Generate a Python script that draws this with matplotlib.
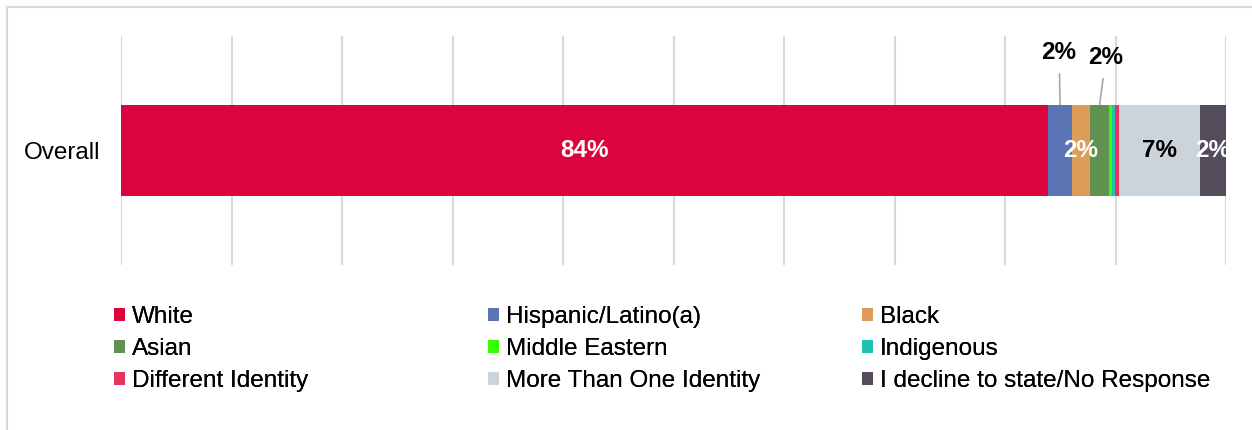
import matplotlib.pyplot as plt
from matplotlib.lines import Line2D

plt.rcParams['font.family'] = ['Liberation Sans', 'DejaVu Sans']

rows = ['Overall']
categories = ['White', 'Hispanic/Latino(a)', 'Black', 'Asian', 'Middle Eastern',
              'Indigenous', 'Different Identity', 'More Than One Identity',
              'I decline to state/No Response']
shares = [83.9, 2.17, 1.63, 1.72, 0.24, 0.30, 0.36, 7.33, 2.35]

colors = ['#DC043C', '#5B74B4', '#DD9D59', '#619150', '#33FF00',
          '#1FC2B1', '#E7335F', '#CCD4DB', '#544B5B']
# how each value label is drawn: inside in white/black, above with a leader, or not at all
label_mode = ['in_w', 'above', 'in_w', 'above', None, None, None, 'in_k', 'in_w']
above_offset = {1: (-0.7, 37.5), 3: (4.5, 34)}

fs = 17.5
fig = plt.figure(figsize=(12.52, 4.30), dpi=100)
ax = fig.add_axes([121 / 1252, 165 / 430, 1105 / 1252, 229 / 430])

left = 0
handles = []
for i, (cat, val, col) in enumerate(zip(categories, shares, colors)):
    b = ax.barh(rows, [val], left=left, height=0.4, color=col, label=cat, zorder=3)
    handles.append(b)
    txt = f'{round(val)}%'
    mid = left + val / 2
    mode = label_mode[i]
    if mode in ('in_w', 'in_k'):
        ax.text(mid, 0, txt, ha='center', va='center', fontsize=fs, fontweight='bold',
                color='white' if mode == 'in_w' else 'black', zorder=4, clip_on=True)
    elif mode == 'above':
        ax.annotate(txt, xy=(mid, 0.2), xytext=above_offset[i], textcoords='offset points',
                    ha='center', va='center', fontsize=fs, fontweight='bold',
                    arrowprops=dict(arrowstyle='-', color='#A6A6A6', lw=1.2,
                                    shrinkA=5, shrinkB=0), zorder=4)
    left += val

ax.set_xlim(0, 100)
ax.set_ylim(-0.5, 0.5)
ax.set_xticks(range(0, 101, 10))
ax.xaxis.grid(True, color='#D9D9D9', lw=1.5, zorder=0)
ax.tick_params(axis='x', length=0, labelbottom=False)
ax.tick_params(axis='y', length=0, pad=15, labelsize=fs)
for s in ax.spines.values():
    s.set_visible(False)

# legend: three columns, filled row by row
col_x = [114 / 1252, 488 / 1252, 862 / 1252]
for c in range(3):
    idx = [c, c + 3, c + 6]
    leg = fig.legend([handles[k] for k in idx], [categories[k] for k in idx],
                     loc='upper left', bbox_to_anchor=(col_x[c], 1 - 306 / 430),
                     frameon=False, fontsize=fs, borderpad=0, borderaxespad=0,
                     handlelength=0.45, handleheight=0.45, handletextpad=0.3,
                     labelspacing=0.42)
    fig.add_artist(leg)

# light outer frame along top and left
fig.add_artist(Line2D([7 / 1252, 1], [1 - 7 / 430, 1 - 7 / 430], color='#D9D9D9', lw=1.5,
                      transform=fig.transFigure))
fig.add_artist(Line2D([7 / 1252, 7 / 1252], [0, 1 - 7 / 430], color='#D9D9D9', lw=1.5,
                      transform=fig.transFigure))

fig.savefig('out.png', dpi=100)
